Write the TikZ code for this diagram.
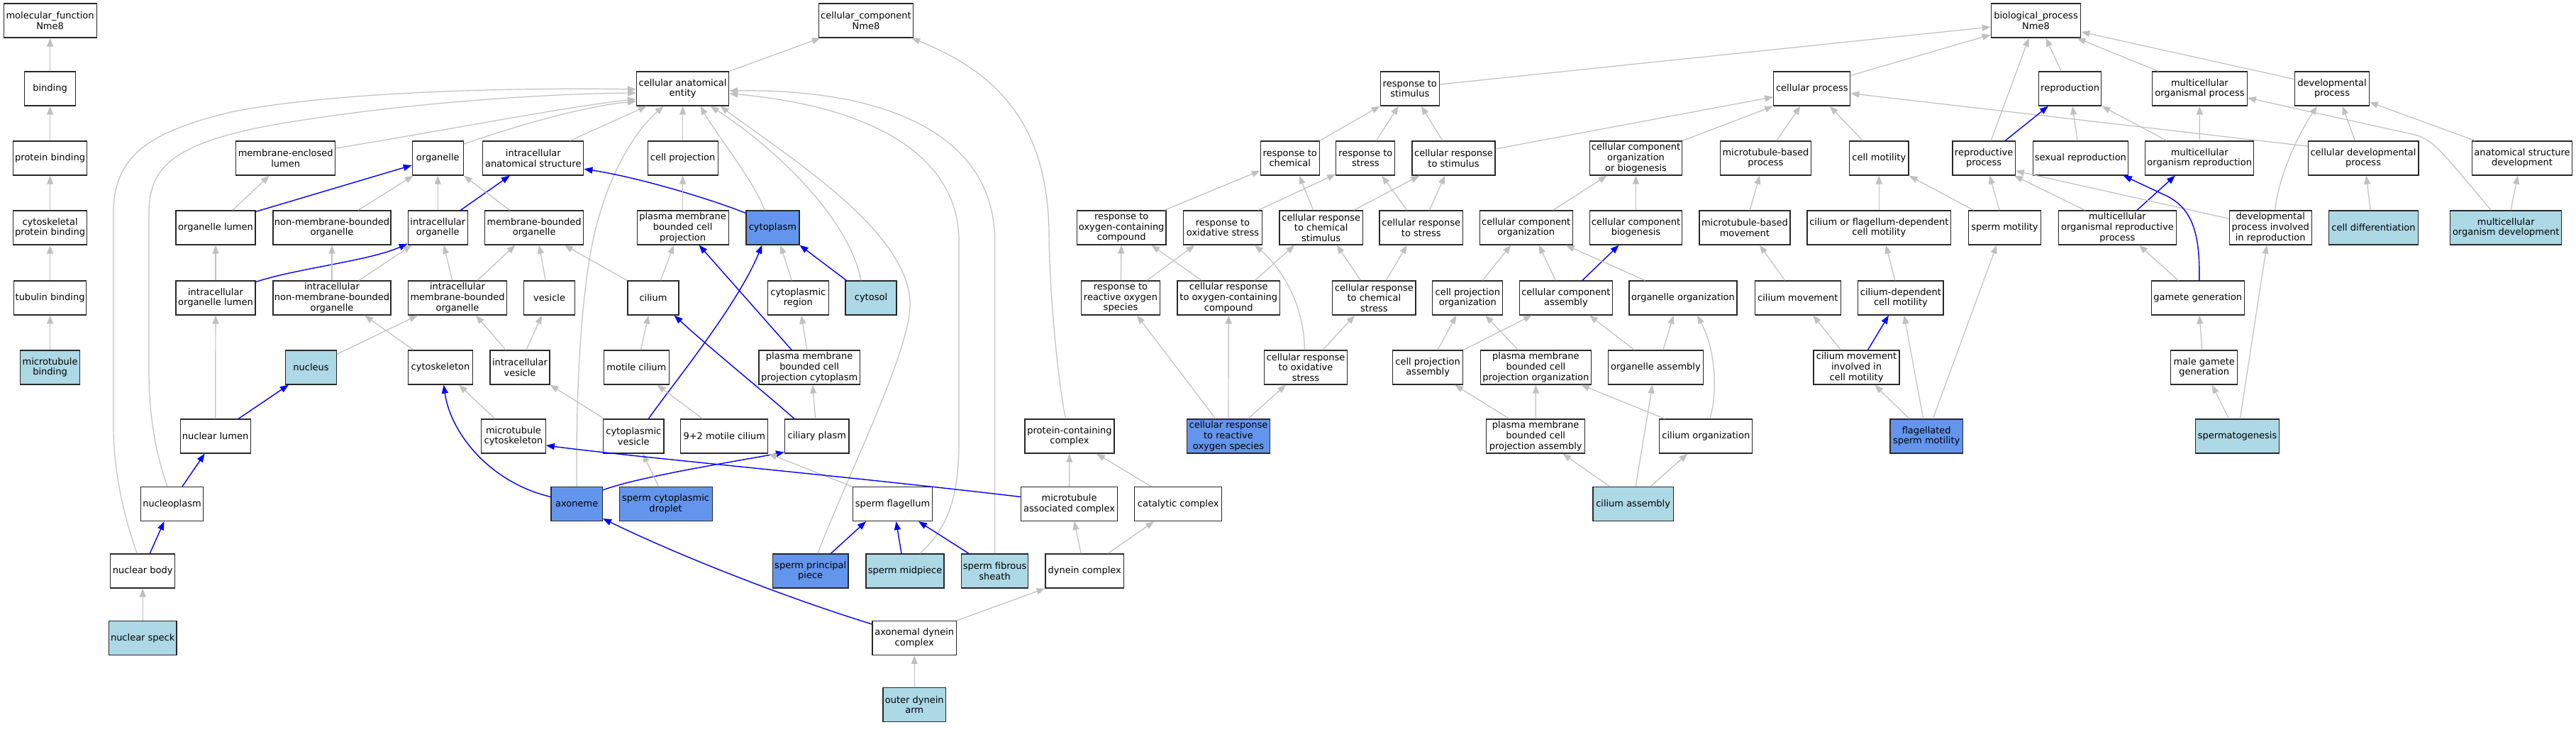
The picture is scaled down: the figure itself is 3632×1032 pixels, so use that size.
\documentclass[tikz,border=0pt]{standalone}
\usepackage{fontspec}
\newfontfamily\gfont{DejaVu Sans}
\usetikzlibrary{arrows.meta,calc}
\definecolor{edgegray}{RGB}{192,192,192}
\definecolor{lblue}{RGB}{173,216,230}
\definecolor{cblue}{RGB}{100,149,237}
\definecolor{bordergray}{RGB}{40,40,40}
\begin{document}
\begin{tikzpicture}[x=1pt,y=-1pt,
  gb/.style={draw=bordergray, line width=1.2pt, fill=white, rectangle, minimum height=48pt, inner sep=0pt, align=center, font=\gfont\fontsize{13}{14.7}\selectfont},
  lb/.style={gb, fill=lblue},
  cb/.style={gb, fill=cblue},
  ge/.style={draw=edgegray, line width=1.2pt, -{Triangle[length=12pt,width=9pt]}},
  be/.style={draw=blue, line width=1.4pt, -{Triangle[length=12pt,width=9pt]}},
]
\useasboundingbox (0,0) rectangle (3632,1032);
\fill[white] (0,0) rectangle (3632,1032);

% ---------------- molecular function
\node[gb, minimum width=131pt] (mf) at (70.6,29) {molecular\_function\\Nme8};
\node[gb, minimum width=72pt] (bind) at (70.6,125) {binding};
\node[gb, minimum width=104pt] (pb) at (70.6,223) {protein binding};
\node[gb, minimum width=104pt] (cpb) at (70.6,321) {cytoskeletal\\protein binding};
\node[gb, minimum width=102pt] (tb) at (70.6,420) {tubulin binding};
\node[lb, minimum width=84pt] (mtb) at (70.6,518) {microtubule\\binding};

% ---------------- cellular component
\node[gb, minimum width=133pt] (ccn) at (1221,29) {cellular\_component\\Nme8};
\node[gb, minimum width=130pt] (cae) at (962.6,125) {cellular anatomical\\entity};
\node[gb, minimum width=140pt] (mel) at (402.7,223) {membrane-enclosed\\lumen};
\node[gb, minimum width=72pt] (org) at (617.3,223) {organelle};
\node[gb, minimum width=142pt] (ias) at (751.8,223) {intracellular\\anatomical structure};
\node[gb, minimum width=99pt] (cpj) at (962.6,223) {cell projection};
\node[gb, minimum width=112pt] (ol) at (304,321) {organelle lumen};
\node[gb, minimum width=166pt] (nmbo) at (468,321) {non-membrane-bounded\\organelle};
\node[gb, minimum width=84pt] (io) at (617.3,321) {intracellular\\organelle};
\node[gb, minimum width=139pt] (mbo) at (753.2,321) {membrane-bounded\\organelle};
\node[gb, minimum width=129pt] (pmbcp) at (962.6,321) {plasma membrane\\bounded cell\\projection};
\node[cb, minimum width=75pt] (cyto) at (1089.4,321) {cytoplasm};
\node[gb, minimum width=112pt] (iol) at (304,420) {intracellular\\organelle lumen};
\node[gb, minimum width=166pt] (inmbo) at (468,420) {intracellular\\non-membrane-bounded\\organelle};
\node[gb, minimum width=139pt] (imbo) at (645,420) {intracellular\\membrane-bounded\\organelle};
\node[gb, minimum width=72pt] (ves) at (774.6,420) {vesicle};
\node[gb, minimum width=72pt] (cil) at (921,420) {cilium};
\node[gb, minimum width=86pt] (cyreg) at (1125.3,420) {cytoplasmic\\region};
\node[lb, minimum width=72pt] (cytosol) at (1228,420) {cytosol};
\node[lb, minimum width=72pt] (nuc) at (438.5,518) {nucleus};
\node[gb, minimum width=91pt] (csk) at (621,518) {cytoskeleton};
\node[gb, minimum width=84pt] (ivs) at (733,518) {intracellular\\vesicle};
\node[gb, minimum width=92pt] (mcil) at (897.4,518) {motile cilium};
\node[gb, minimum width=142.5pt] (pmbcpc) at (1141.2,518) {plasma membrane\\bounded cell\\projection cytoplasm};
\node[gb, minimum width=99pt] (nl) at (303.6,615) {nuclear lumen};
\node[gb, minimum width=90.5pt] (mtc) at (724,615) {microtubule\\cytoskeleton};
\node[gb, minimum width=85.3pt] (cv) at (893.3,615) {cytoplasmic\\vesicle};
\node[gb, minimum width=123pt] (m92) at (1021.3,615) {9+2 motile cilium};
\node[gb, minimum width=90.5pt] (cpl) at (1151.8,615) {ciliary plasm};
\node[gb, minimum width=126pt] (pcc) at (1508,615) {protein-containing\\complex};
\node[gb, minimum width=88.7pt] (np) at (242.5,710.5) {nucleoplasm};
\node[cb, minimum width=72.5pt] (axo) at (813.2,710.5) {axoneme};
\node[cb, minimum width=131pt] (scd) at (938.6,710.5) {sperm cytoplasmic\\droplet};
\node[gb, minimum width=112.5pt] (sf) at (1258.5,710.5) {sperm flagellum};
\node[gb, minimum width=136pt] (mac) at (1507.6,710.5) {microtubule\\associated complex};
\node[gb, minimum width=123pt] (cc) at (1661.2,710.5) {catalytic complex};
\node[gb, minimum width=91pt] (nb) at (201.2,805) {nuclear body};
\node[cb, minimum width=106.4pt] (spp) at (1142.7,805) {sperm principal\\piece};
\node[lb, minimum width=110pt] (smp) at (1276,805) {sperm midpiece};
\node[lb, minimum width=93.7pt] (sfs) at (1402.6,805) {sperm fibrous\\sheath};
\node[gb, minimum width=110.3pt] (dync) at (1529.2,805) {dynein complex};
\node[lb, minimum width=95.6pt] (ns) at (201.2,899.5) {nuclear speck};
\node[gb, minimum width=118.3pt] (adc) at (1289.2,899.5) {axonemal dynein\\complex};
\node[lb, minimum width=88.6pt] (oda) at (1289.2,993.5) {outer dynein\\arm};
\node[cb, minimum width=117.4pt] (crros) at (1732,615) {cellular response\\to reactive\\oxygen species};

% ---------------- biological process
\node[gb, minimum width=126.5pt] (bp) at (2870.5,29) {biological\_process\\Nme8};
\node[gb, minimum width=83pt] (rts) at (1987.8,125) {response to\\stimulus};
\node[gb, minimum width=108pt] (cpr) at (2554.8,125) {cellular process};
\node[gb, minimum width=88.2pt] (repr) at (2918.6,125) {reproduction};
\node[gb, minimum width=133.7pt] (mop) at (3101.4,125) {multicellular\\organismal process};
\node[gb, minimum width=104.4pt] (dp) at (3288,125) {developmental\\process};
\node[gb, minimum width=82.8pt] (rchem) at (1818.7,223) {response to\\chemical};
\node[gb, minimum width=83pt] (rstress) at (1925.3,223) {response to\\stress};
\node[gb, minimum width=117pt] (crs) at (2049.5,223) {cellular response\\to stimulus};
\node[gb, minimum width=130.5pt] (ccob) at (2306.5,223) {cellular component\\organization\\or biogenesis};
\node[gb, minimum width=128pt] (mbp) at (2489.4,223) {microtubule-based\\process};
\node[gb, minimum width=83.4pt] (cmot) at (2649.3,223) {cell motility};
\node[gb, minimum width=88.3pt] (rp) at (2797.1,223) {reproductive\\process};
\node[gb, minimum width=133.6pt] (sr) at (2933.4,223) {sexual reproduction};
\node[gb, minimum width=153pt] (mor) at (3101.2,223) {multicellular\\organism reproduction};
\node[gb, minimum width=155.8pt] (cdp) at (3332,223) {cellular developmental\\process};
\node[gb, minimum width=141.6pt] (asd) at (3556,223) {anatomical structure\\development};
\node[gb, minimum width=125.7pt] (rocc) at (1581.2,321) {response to\\oxygen-containing\\compound};
\node[gb, minimum width=110.7pt] (ros) at (1724,321) {response to\\oxidative stress};
\node[gb, minimum width=117.4pt] (crcs) at (1862.7,321) {cellular response\\to chemical\\stimulus};
\node[gb, minimum width=117.6pt] (crst) at (2003.8,321) {cellular response\\to stress};
\node[gb, minimum width=131pt] (cco) at (2151.7,321) {cellular component\\organization};
\node[gb, minimum width=130.5pt] (ccb) at (2306.5,321) {cellular component\\biogenesis};
\node[gb, minimum width=128pt] (mbm) at (2459.9,321) {microtubule-based\\movement};
\node[gb, minimum width=202.8pt] (cofd) at (2649.3,321) {cilium or flagellum-dependent\\cell motility};
\node[gb, minimum width=102.4pt] (smot) at (2826.5,321) {sperm motility};
\node[gb, minimum width=165.5pt] (morp) at (2985.4,321) {multicellular\\organismal reproductive\\process};
\node[gb, minimum width=115.8pt] (dpir) at (3201.2,321) {developmental\\process involved\\in reproduction};
\node[lb, minimum width=125.8pt] (cdiff) at (3346.5,321) {cell differentiation};
\node[lb, minimum width=157.3pt] (mod) at (3533.2,321) {multicellular\\organism development};
\node[gb, minimum width=110.7pt] (rros) at (1580,420) {response to\\reactive oxygen\\species};
\node[gb, minimum width=144.7pt] (croc) at (1732.3,420) {cellular response\\to oxygen-containing\\compound};
\node[gb, minimum width=117.3pt] (crcst) at (1937.4,420) {cellular response\\to chemical\\stress};
\node[gb, minimum width=98.9pt] (cpo) at (2069.3,420) {cell projection\\organization};
\node[gb, minimum width=130.9pt] (cca) at (2207.9,420) {cellular component\\assembly};
\node[gb, minimum width=152pt] (oorg) at (2373,420) {organelle organization};
\node[gb, minimum width=121pt] (cmov) at (2534.8,420) {cilium movement};
\node[gb, minimum width=120.2pt] (cdcm) at (2679.9,420) {cilium-dependent\\cell motility};
\node[gb, minimum width=130.8pt] (gg) at (3098.8,420) {gamete generation};
\node[gb, minimum width=117.2pt] (croxs) at (1841,518) {cellular response\\to oxidative\\stress};
\node[gb, minimum width=98.9pt] (cpa) at (2013.1,518) {cell projection\\assembly};
\node[gb, minimum width=155.8pt] (pmbcpo) at (2165.4,518) {plasma membrane\\bounded cell\\projection organization};
\node[gb, minimum width=134pt] (oasm) at (2334.4,518) {organelle assembly};
\node[gb, minimum width=121pt] (cmicm) at (2617.5,518) {cilium movement\\involved in\\cell motility};
\node[gb, minimum width=94.1pt] (mgg) at (3107.7,518) {male gamete\\generation};
\node[gb, minimum width=138.8pt] (pmbcpa) at (2165.2,615) {plasma membrane\\bounded cell\\projection assembly};
\node[gb, minimum width=131.1pt] (cilorg) at (2405.3,615) {cilium organization};
\node[cb, minimum width=102.3pt] (fsm) at (2716.2,615) {flagellated\\sperm motility};
\node[lb, minimum width=118.3pt] (spg) at (3154.6,615) {spermatogenesis};
\node[lb, minimum width=113.1pt] (cilasm) at (2302.6,710.5) {cilium assembly};

% ================= edges: molecular function
\draw[ge] (bind) -- (mf);
\draw[ge] (pb) -- (bind);
\draw[ge] (cpb) -- (pb);
\draw[ge] (tb) -- (cpb);
\draw[ge] (mtb) -- (tb);

% ================= edges: cellular component
\draw[ge] (cae.north east) -- ([xshift=3pt]ccn.south west);
\draw[ge] ([xshift=-5.5pt]pcc.north) .. controls (1492,540) and (1480,420) .. (1479,330) .. controls (1478,170) and (1400,100) .. ([xshift=-3pt]ccn.south east);
\draw[ge] ([yshift=14pt]mel.east) .. controls (650,180) and (800,150) .. ([yshift=-15pt]cae.west);
\draw[ge] ([yshift=20pt]org.east) .. controls (720,180) and (820,150) .. ([yshift=-18pt]cae.west);
\draw[ge] ([xshift=-6.5pt]np.north) .. controls (220,640) and (210,590) .. (210,520) -- (210,300) .. controls (210,230) and (250,195) .. (435,168) .. controls (600,143) and (780,132) .. ([yshift=-6pt]cae.west);
\draw[ge] ([xshift=-8pt]nb.north) .. controls (172,720) and (160,660) .. (160,600) -- (160,300) .. controls (160,220) and (210,185) .. (330,157) .. controls (500,125) and (780,124) .. ([yshift=-1pt]cae.west);
\draw[ge] ([xshift=51.8pt]ias.north) -- ([xshift=15pt]cae.south west);
\draw[ge] (cpj) -- (cae);
\draw[ge] ([xshift=-11pt]cyto.north) .. controls (1060,250) and (1010,190) .. ([xshift=25pt]cae.south);
\draw[ge] ([xshift=-14pt]cytosol.north) .. controls (1195,300) and (1080,200) .. ([xshift=39pt]cae.south);
\draw[ge] ([xshift=10pt]spp.north) .. controls (1200,660) and (1280,500) .. (1283,433) .. controls (1288,330) and (1110,220) .. ([xshift=53pt]cae.south);
\draw[ge] ([xshift=21pt]smp.north) .. controls (1342,740) and (1352,690) .. (1352,620) -- (1352,340) .. controls (1352,220) and (1230,150) .. ([yshift=-7pt]cae.east);
\draw[ge] (sfs.north) -- (1402.6,340) .. controls (1402.6,190) and (1250,125) .. ([yshift=-3pt]cae.east);
\draw[ge] (axo.north) .. controls (812,600) and (815,430) .. (838,330) .. controls (858,245) and (895,185) .. ([xshift=-27pt]cae.south);
\draw[ge] ([xshift=24pt]ol.north) -- ([xshift=-23pt]mel.south);
\draw[be] ([yshift=-2pt]ol.north east) -- ([yshift=-10pt]org.west);
\draw[ge] ([xshift=37pt]nmbo.north) -- ([xshift=2pt]org.south west);
\draw[ge] (io) -- (org);
\draw[be] ([xshift=32pt]io.north) -- ([xshift=-33pt]ias.south);
\draw[ge] ([xshift=-34.6pt]mbo.north) -- (org.south east);
\draw[be] ([yshift=-4pt]cyto.north west) .. controls (1000,280) and (900,250) .. ([yshift=-15.3pt]ias.east);
\draw[ge] (iol) -- (ol);
\draw[be] ([yshift=-2pt]iol.north east) .. controls (420,378) and (520,368) .. ([yshift=2pt]io.south west);
\draw[ge] (inmbo) -- (nmbo);
\draw[ge] ([xshift=38pt]inmbo.north) -- ([xshift=6pt]io.south west);
\draw[ge] ([xshift=-7.4pt]imbo.north) -- ([xshift=8.4pt]io.south);
\draw[ge] ([xshift=28pt]imbo.north) -- ([xshift=-26.7pt]mbo.south);
\draw[ge] ([xshift=-5.4pt]ves.north) -- ([xshift=7pt]mbo.south);
\draw[ge] (cil.north west) -- ([xshift=42.5pt]mbo.south);
\draw[ge] ([xshift=10.4pt]cil.north) -- ([xshift=-12.5pt]pmbcp.south);
\draw[ge] (pmbcp) -- (cpj);
\draw[ge] ([yshift=-6pt]nuc.north east) -- ([xshift=14pt]imbo.south west);
\draw[ge] ([xshift=8pt]csk.north west) -- ([xshift=46pt]inmbo.south);
\draw[ge] (nl) -- (iol);
\draw[be] ([xshift=32.5pt]nl.north) -- ([xshift=5pt]nuc.south west);
\draw[be] ([xshift=14.5pt]np.north) -- ([xshift=-15pt]nl.south);
\draw[be] ([xshift=10pt]nb.north) -- ([xshift=-11pt]np.south);
\draw[ge] (ns) -- (nb);
\draw[ge] ([xshift=9pt]ivs.north) -- ([xshift=-10.6pt]ves.south);
\draw[ge] ([xshift=-20pt]ivs.north) -- ([xshift=26pt]imbo.south);
\draw[ge] ([xshift=6pt]mcil.north) -- ([xshift=-6.6pt]cil.south);
\draw[ge] ([xshift=-9pt]cyreg.north) -- ([xshift=11pt]cyto.south);
\draw[be] ([xshift=2pt]cytosol.north west) -- (cyto.south east);
\draw[ge] ([xshift=-3.4pt]pmbcpc.north) -- ([xshift=4.6pt]cyreg.south);
\draw[be] ([xshift=-25pt]pmbcpc.north) -- ([xshift=23pt]pmbcp.south);
\draw[be] ([xshift=21pt]cv.north) .. controls (950,540) and (1040,430) .. ([xshift=-15pt]cyto.south);
\draw[be] ([xshift=-31.8pt]cpl.north) .. controls (1080,555) and (1000,490) .. ([xshift=-7pt]cil.south east);
\draw[ge] ([xshift=-30.6pt]m92.north) -- ([xshift=29pt]mcil.south);
\draw[ge] ([xshift=2pt]cv.north west) -- (ivs.south east);
\draw[ge] ([xshift=-26pt]mtc.north) -- ([xshift=26pt]csk.south);
\draw[ge] ([xshift=-2pt]cpl.north) -- ([xshift=4.5pt]pmbcpc.south);
\draw[be] ([yshift=10pt]axo.west) .. controls (690,680) and (635,610) .. ([xshift=4.7pt]csk.south);
\draw[be] ([yshift=-5pt]axo.north east) .. controls (900,672) and (1040,650) .. ([yshift=2pt]cpl.south west);
\draw[ge] ([xshift=-10pt]scd.north) -- ([xshift=13pt]cv.south);
\draw[ge] (sf.north west) -- (m92.south east);
\draw[be] ([yshift=10pt]mac.west) .. controls (1200,672) and (900,645) .. ([yshift=-13pt]mtc.east);
\draw[be] ([yshift=19.5pt]adc.west) .. controls (1100,840) and (950,780) .. ([yshift=4pt]axo.south east);
\draw[be] ([xshift=28.7pt]spp.north) -- ([xshift=-37.5pt]sf.south);
\draw[be] ([xshift=-5pt]smp.north) -- ([xshift=5pt]sf.south);
\draw[be] ([xshift=-36.6pt]sfs.north) -- ([xshift=36.5pt]sf.south);
\draw[ge] (mac) -- (pcc);
\draw[ge] ([xshift=-38pt]cc.north) -- ([xshift=38pt]pcc.south);
\draw[ge] ([xshift=-5pt]dync.north) -- ([xshift=7pt]mac.south);
\draw[ge] ([xshift=32.6pt]dync.north) -- ([xshift=-34pt]cc.south);
\draw[ge] (adc.north east) -- (dync.south west);
\draw[ge] (oda) -- (adc);

% ================= edges: biological process
\draw[ge] ([yshift=6pt]rts.east) -- ([yshift=-9pt]bp.west);
\draw[ge] ([yshift=-6pt]cpr.north east) -- ([yshift=-20pt]bp.west);
\draw[ge] ([xshift=10pt]rp.north) -- ([xshift=-10pt]bp.south);
\draw[ge] ([xshift=-12.5pt]repr.north) -- ([xshift=14pt]bp.south);
\draw[ge] ([xshift=9pt]mop.north west) -- ([xshift=-6pt]bp.south east);
\draw[ge] ([yshift=13.3pt]dp.west) -- ([yshift=-16pt]bp.east);
\draw[ge] (rchem.north east) -- (rts.south west);
\draw[ge] ([xshift=15pt]rstress.north) -- ([xshift=-16pt]rts.south);
\draw[ge] ([xshift=-15.5pt]crs.north) -- ([xshift=16pt]rts.south);
\draw[ge] ([yshift=13pt]crs.east) -- ([yshift=-11.7pt]cpr.west);
\draw[ge] (ccob.north east) -- (cpr.south west);
\draw[ge] ([xshift=15.4pt]mbp.north) -- ([xshift=-16.4pt]cpr.south);
\draw[ge] ([xshift=-23pt]cmot.north) -- ([xshift=25pt]cpr.south);
\draw[ge] ([yshift=-7.7pt]cdp.north west) -- ([yshift=-6.7pt]cpr.east);
\draw[be] ([xshift=30pt]rp.north) -- ([xshift=14pt]repr.south west);
\draw[ge] ([xshift=-4.4pt]sr.north) -- ([xshift=3.4pt]repr.south);
\draw[ge] ([xshift=31pt]mor.north west) -- (repr.south east);
\draw[ge] (mor) -- (mop);
\draw[ge] ([xshift=-3pt]rocc.north east) -- ([yshift=7pt]rchem.south west);
\draw[ge] ([xshift=-6pt]ros.north east) -- ([yshift=2pt]rstress.south west);
\draw[ge] ([xshift=-11pt]crcs.north) -- ([xshift=13pt]rchem.south);
\draw[ge] ([xshift=46pt]crcs.north) -- ([xshift=11pt]crs.south west);
\draw[ge] ([xshift=-20pt]crst.north) -- ([xshift=23pt]rstress.south);
\draw[ge] ([xshift=11.7pt]crst.north) -- ([xshift=-12.3pt]crs.south);
\draw[ge] ([xshift=37.8pt]cco.north) -- ([xshift=25pt]ccob.south west);
\draw[ge] (ccb) -- (ccob);
\draw[ge] ([xshift=7.3pt]mbm.north) -- ([xshift=-8.4pt]mbp.south);
\draw[ge] (cofd) -- (cmot);
\draw[ge] ([xshift=8pt]smot.north west) -- (cmot.south east);
\draw[ge] ([xshift=-7.5pt]smot.north) -- ([xshift=8pt]rp.south);
\draw[ge] ([xshift=-45.7pt]morp.north) -- ([xshift=-2pt]rp.south east);
\draw[be] ([xshift=27.5pt]morp.north) -- ([xshift=42.7pt]mor.south west);
\draw[ge] ([yshift=12.7pt]dpir.west) -- ([yshift=-18pt]rp.east);
\draw[ge] ([xshift=6.5pt]dpir.north) .. controls (3212,250) and (3240,190) .. ([xshift=-21pt]dp.south);
\draw[ge] ([xshift=-11.6pt]cdp.north) -- ([xshift=14.6pt]dp.south);
\draw[ge] ([xshift=5pt]asd.north west) -- ([yshift=5.7pt]dp.south east);
\draw[ge] ([xshift=-21pt]mod.north) .. controls (3440,210) and (3430,197) .. (3405,190) -- ([yshift=-13pt]mop.east);
\draw[ge] ([xshift=6.7pt]mod.north) -- ([xshift=-6pt]asd.south);
\draw[ge] ([xshift=-4.3pt]cdiff.north) -- ([xshift=4.2pt]cdp.south);
\draw[ge] ([xshift=-27.5pt]gg.north) -- ([xshift=30.6pt]morp.south);
\draw[be] ([xshift=2pt]gg.north) .. controls (3102,330) and (3092,292) .. (3050,274) -- ([xshift=-7pt]sr.south east);
\draw[ge] ([xshift=-2.8pt]mgg.north) -- ([xshift=2.2pt]gg.south);
\draw[ge] ([xshift=-12pt]spg.north) -- ([xshift=11pt]mgg.south);
\draw[ge] ([xshift=3.7pt]spg.north) -- ([xshift=-5.3pt]dpir.south);
\draw[ge] ([xshift=21pt]cpo.north) -- ([xshift=-21.5pt]cco.south);
\draw[ge] ([xshift=-14.5pt]cca.north) -- ([xshift=18pt]cco.south);
\draw[be] ([xshift=23pt]cca.north) -- ([xshift=-24pt]ccb.south);
\draw[ge] ([xshift=23pt]oorg.north west) -- ([xshift=-10pt]cco.south east);
\draw[ge] ([xshift=-18.8pt]crcst.north) -- ([xshift=22pt]crcs.south);
\draw[ge] ([xshift=16.8pt]crcst.north) -- ([xshift=-20pt]crst.south);
\draw[ge] (rros) -- (rocc);
\draw[ge] ([xshift=37pt]rros.north) -- ([xshift=-39.6pt]ros.south);
\draw[ge] ([xshift=-38pt]croc.north) -- ([xshift=42pt]rocc.south);
\draw[ge] ([xshift=37pt]croc.north) -- ([xshift=21.7pt]crcs.south west);
\draw[ge] ([xshift=-1.5pt]croxs.north) .. controls (1838,420) and (1800,372) .. ([xshift=45pt]ros.south);
\draw[ge] ([xshift=24pt]croxs.north) -- ([xshift=32pt]crcst.south west);
\draw[ge] ([xshift=-18pt]crros.north) -- ([xshift=23pt]rros.south);
\draw[ge] (crros) -- (croc);
\draw[ge] ([xshift=27.5pt]crros.north) -- ([xshift=-28pt]croxs.south);
\draw[ge] ([xshift=14pt]cpa.north) -- ([xshift=-16pt]cpo.south);
\draw[ge] (cpa.north east) -- ([xshift=-48pt]cca.south);
\draw[ge] ([xshift=-25pt]pmbcpo.north) -- ([xshift=25pt]cpo.south);
\draw[ge] ([xshift=-30pt]oasm.north) -- ([xshift=33pt]cca.south);
\draw[ge] ([xshift=10.5pt]oasm.north) -- ([xshift=-13.5pt]oorg.south);
\draw[ge] ([xshift=5.6pt]cilorg.north) .. controls (2420,560) and (2422,500) .. ([xshift=20pt]oorg.south);
\draw[ge] ([xshift=-37pt]pmbcpa.north) -- ([xshift=38pt]cpa.south);
\draw[ge] (pmbcpa) -- (pmbcpo);
\draw[ge] ([xshift=8pt]cilorg.north west) -- ([xshift=63.6pt]pmbcpo.south);
\draw[ge] ([xshift=-33pt]cilasm.north) -- ([xshift=38pt]pmbcpa.south);
\draw[ge] ([xshift=3.5pt]cilasm.north) -- ([xshift=-4.5pt]oasm.south);
\draw[ge] ([xshift=24.4pt]cilasm.north) -- ([xshift=-26pt]cilorg.south);
\draw[ge] ([xshift=-18pt]cmov.north) -- ([xshift=21pt]mbm.south);
\draw[ge] ([xshift=-8pt]cdcm.north) -- ([xshift=9.7pt]cofd.south);
\draw[ge] ([xshift=-22pt]cmicm.north) -- ([xshift=21.4pt]cmov.south);
\draw[be] ([xshift=16pt]cmicm.north) -- ([xshift=-17pt]cdcm.south);
\draw[ge] ([xshift=-24.4pt]fsm.north) -- ([xshift=25.7pt]cmicm.south);
\draw[ge] ([xshift=-4.6pt]fsm.north) -- ([xshift=4.8pt]cdcm.south);
\draw[ge] ([xshift=9pt]fsm.north) -- ([xshift=-11.3pt]smot.south);
\end{tikzpicture}
\end{document}
